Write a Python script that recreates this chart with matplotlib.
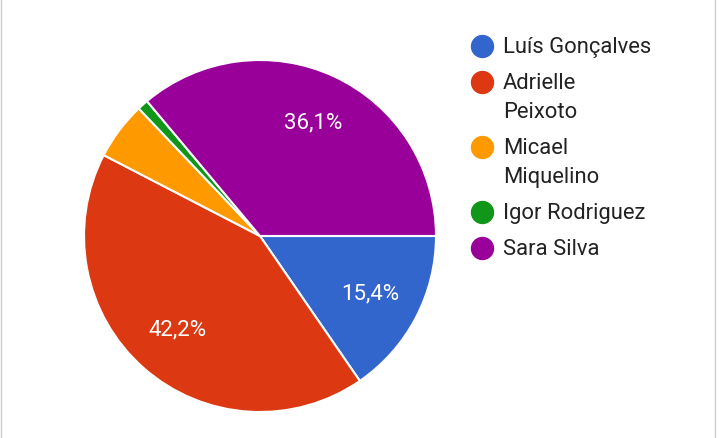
import matplotlib
matplotlib.use("Agg")
from matplotlib import pyplot as plt

# data
nomes = ["Luís Gonçalves", "Adrielle\nPeixoto", "Micael\nMiquelino", "Igor Rodriguez", "Sara Silva"]
valores = [15.4, 42.2, 5.3, 1.0, 36.1]
cores = ["#3366CC", "#DC3912", "#FF9900", "#109618", "#990099"]

plt.rcParams['font.family'] = ['Roboto', 'DejaVu Sans']

W, H = 719, 438
fig = plt.figure(figsize=(W / 100, H / 100), dpi=100)
ax = fig.add_axes([0, 0, 1, 1])
ax.axis("off")

def rotulo(pct):
    if pct < 10:
        return ""
    return f"{pct:.1f}%".replace(".", ",")

wedges, texts, autotexts = ax.pie(
    valores, colors=cores, startangle=0, counterclock=False,
    center=(260, H - 236), radius=176, autopct=rotulo, pctdistance=0.71,
    wedgeprops=dict(edgecolor="white", linewidth=1.5),
    textprops=dict(color="white", fontsize=16))
ax.set_aspect("equal")
ax.set_xlim(0, W)
ax.set_ylim(0, H)

# legend drawn by hand (Google Forms style)
y = 46
for nome, cor in zip(nomes, cores):
    linhas = nome.count("\n") + 1
    ax.scatter([482], [H - y], s=250, color=cor, zorder=3)
    ax.text(503, H - y + 9, nome, fontsize=15.8, color="#222222",
            va="top", ha="left", linespacing=1.5)
    y += 29 * linhas + 7

# thin frame lines at the sides
ax.plot([1, 1], [0, H], color="#cccccc", lw=1)
ax.plot([715, 715], [0, H], color="#cccccc", lw=1)

fig.savefig("out.png", dpi=100)
